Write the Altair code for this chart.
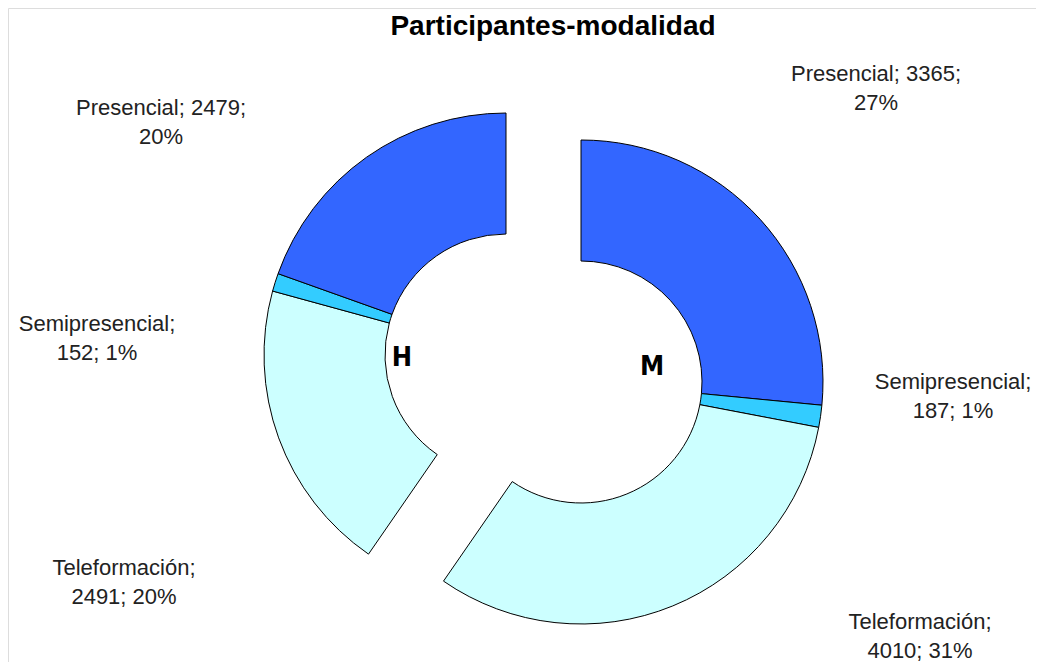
import altair as alt
import pandas as pd

# ---- data ----
GROUP = ["M", "M", "M", "H", "H", "H"]
MODALIDAD = ["Presencial", "Semipresencial", "Teleformación",
             "Teleformación", "Semipresencial", "Presencial"]
VALUES = [3365, 187, 4010, 2491, 152, 2479]
PCT = [27, 1, 31, 20, 1, 20]
CATEGORIES = ["Presencial", "Semipresencial", "Teleformación"]
COLORS = ["#3366FF", "#33CCFF", "#CCFFFF"]
TITLE = "Participantes-modalidad"

df = pd.DataFrame({
    "grupo": GROUP,
    "modalidad": MODALIDAD,
    "valor": VALUES,
    "orden": list(range(len(VALUES))),
})

W, H = 1028, 654

# ---- layout (pixel positions, not data) ----
CENTER_X = {"H": 498, "M": 573}
CENTER_Y = {"H": 347, "M": 374}
LABEL_POS = [(868, 56), (945, 364), (912, 604), (116, 550), (89, 306), (153, 90)]
GROUP_LABEL_POS = {"H": (394, 350), "M": (644, 359)}

arcs = alt.Chart(df).mark_arc(
    innerRadius=121, outerRadius=242, stroke="#000000", strokeWidth=1
).encode(
    theta=alt.Theta("valor:Q", stack=True),
    order=alt.Order("orden:Q"),
    color=alt.Color("modalidad:N",
                    scale=alt.Scale(domain=CATEGORIES, range=COLORS),
                    legend=None),
    x=alt.X("grupo:N", axis=None,
            scale=alt.Scale(type="point", domain=["H", "M"],
                            range=[CENTER_X["H"], CENTER_X["M"]], padding=0)),
    y=alt.Y("grupo:N", axis=None,
            scale=alt.Scale(type="point", domain=["H", "M"],
                            range=[CENTER_Y["H"], CENTER_Y["M"]], padding=0)),
)

layers = [arcs]

def label_text(cat, val, pct):
    if cat == "Presencial":
        return f"{cat}; {val};\n{pct}%"
    return f"{cat};\n{val}; {pct}%"

for cat, val, pct, (lx, ly) in zip(MODALIDAD, VALUES, PCT, LABEL_POS):
    t = alt.Chart(pd.DataFrame({"t": [label_text(cat, val, pct)]})).mark_text(
        x=lx, y=ly, align="center", baseline="top", lineBreak="\n",
        lineHeight=29, font="Liberation Sans", fontSize=22, color="#222222"
    ).encode(text="t:N")
    layers.append(t)

for g, (gx, gy) in GROUP_LABEL_POS.items():
    t = alt.Chart(pd.DataFrame({"t": [g]})).mark_text(
        x=gx, y=gy, align="center", baseline="middle",
        font="'DejaVu Sans Condensed', 'Liberation Sans', sans-serif",
        fontWeight="bold", fontSize=27, color="#000000"
    ).encode(text="t:N")
    layers.append(t)

title = alt.Chart(pd.DataFrame({"t": [TITLE]})).mark_text(
    x=545, y=19, align="center", baseline="middle",
    font="Liberation Sans", fontWeight="bold", fontSize=28, color="#000000"
).encode(text="t:N")
layers.append(title)

chart = alt.layer(*layers).properties(
    width=W, height=H, padding=0,
    autosize=alt.AutoSizeParams(type="none"),
).configure_view(stroke=None).configure(background="#FFFFFF")

chart.save("out.html", embed_options={"renderer": "svg", "actions": False})
